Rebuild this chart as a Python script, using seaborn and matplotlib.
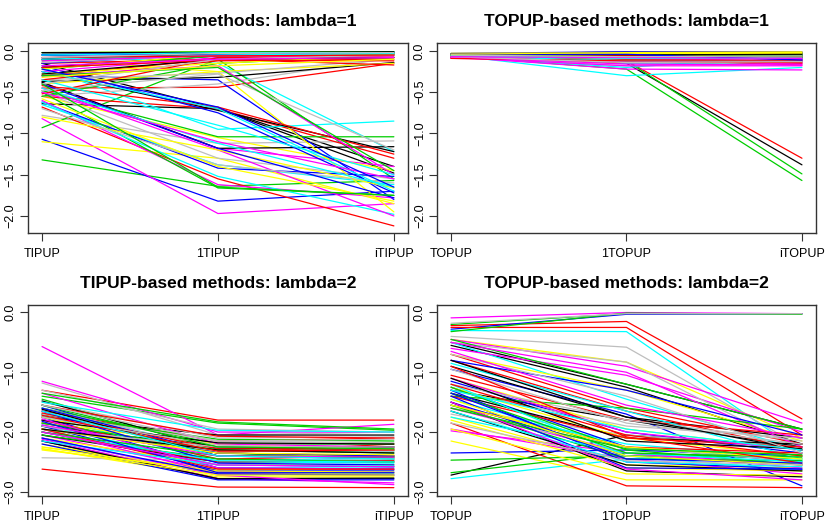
import pandas as pd
import seaborn as sns
import matplotlib.pyplot as plt

sns.set_style("ticks")
plt.rcParams['font.family'] = ['Liberation Sans', 'DejaVu Sans']

# R default palette, used in order for each series (black, red, green3, blue, cyan, magenta, yellow, gray)
R_COLORS = ['#000000', '#FF0000', '#00CD00', '#0000FF',
            '#00FFFF', '#FF00FF', '#FFFF00', '#BEBEBE']

TIPUP_LABELS = ['TIPUP', '1TIPUP', 'iTIPUP']
TOPUP_LABELS = ['TOPUP', '1TOPUP', 'iTOPUP']

# each tuple: value at (base, 1-, i-) method
tipup_l1 = [
    (-0.15, -0.70, -1.40), (-0.45, -0.44, -0.15), (-1.32, -1.64, -1.57), (-1.07, -1.82, -1.70),
    (-0.05, -0.15, -1.22), (-0.82, -1.97, -1.85), (-1.10, -1.30, -1.85), (-0.78, -1.12, -1.09),
    (-0.64, -0.70, -1.48), (-0.68, -1.55, -2.12), (-0.93, -0.10, -1.55), (-0.30, -0.35, -1.80),
    (-0.65, -1.38, -1.62), (-0.38, -1.18, -1.40), (-0.55, -1.05, -1.45), (-0.50, -1.30, -1.55),
    (-0.38, -1.18, -1.16), (-0.55, -0.70, -1.30), (-0.48, -1.04, -1.04), (-0.62, -1.42, -1.52),
    (-0.20, -0.95, -0.85), (-0.60, -1.62, -1.78), (-0.10, -0.25, -1.95), (-0.55, -0.40, -0.08),
    (-0.25, -0.72, -1.22), (-0.42, -0.68, -1.25), (-0.50, -1.66, -1.75), (-0.18, -0.75, -1.72),
    (-0.62, -1.52, -1.98), (-0.45, -1.20, -2.00), (-0.80, -1.20, -1.66), (-0.70, -1.38, -1.60),
    (-0.37, -0.32, -0.14), (-0.30, -0.10, -0.08), (-0.55, -0.15, -0.05), (-0.10, -0.05, -0.03),
    (-0.02, -0.03, -0.02), (-0.25, -0.08, -0.05), (-0.40, -0.25, -0.15), (-0.35, -0.27, -0.10),
    (-0.05, -0.02, -0.02), (-0.35, -0.12, -0.10), (-0.12, -0.03, -0.02), (-0.04, -0.02, -0.01),
    (-0.25, -0.70, -1.70), (-0.08, -0.05, -0.03), (-0.02, -0.01, -0.01), (-0.20, -0.05, -0.04),
    (-0.20, -0.06, -0.04), (-0.15, -0.10, -0.17), (-0.02, -0.01, -0.01), (-0.40, -1.18, -1.78),
    (-0.45, -1.12, -1.65), (-0.30, -0.18, -1.50), (-0.28, -0.15, -0.05), (-0.48, -0.28, -1.20),
    (-0.10, -0.04, -0.03), (-0.52, -0.08, -0.06), (-0.22, -0.06, -0.04), (-0.15, -0.04, -0.02),
    (-0.35, -0.90, -1.50), (-0.50, -1.10, -1.55), (-0.22, -0.04, -0.03), (-0.14, -0.05, -0.03),
    (-0.28, -0.10, -0.08), (-0.20, -0.11, -0.12), (-0.30, -0.20, -1.45), (-0.05, -0.04, -0.02),
    (-0.10, -0.05, -0.03), (-0.12, -0.06, -0.06), (-0.58, -1.40, -1.82), (-0.40, -0.10, -0.05),
    (-0.02, -0.02, -0.01), (-0.08, -0.06, -0.05), (-0.40, -1.65, -1.75), (-0.22, -0.68, -1.65),
    (-0.05, -0.02, -0.02), (-0.18, -0.10, -0.08), (-0.32, -0.18, -0.10), (-0.08, -0.03, -0.02),
]

topup_l1 = [
    (-0.05, -0.15, -1.38), (-0.08, -0.12, -1.30), (-0.06, -0.22, -1.57), (-0.04, -0.03, -0.10),
    (-0.05, -0.30, -0.20), (-0.07, -0.22, -0.23), (-0.03, -0.02, -0.02), (-0.06, -0.18, -0.12),
    (-0.04, -0.02, -0.05), (-0.09, -0.10, -0.17), (-0.07, -0.12, -1.49), (-0.05, -0.03, -0.02),
    (-0.06, -0.20, -0.05), (-0.08, -0.06, -0.15), (-0.05, -0.04, -0.03), (-0.04, -0.05, -0.08),
    (-0.04, -0.03, -0.02), (-0.07, -0.08, -0.12), (-0.05, -0.04, -0.06), (-0.04, -0.02, -0.08),
    (-0.06, -0.15, -0.14), (-0.08, -0.18, -0.18), (-0.05, -0.06, -0.05), (-0.06, -0.10, -0.09),
    (-0.05, -0.08, -0.06), (-0.06, -0.12, -0.15), (-0.04, -0.03, -0.04), (-0.05, -0.01, -0.01),
    (-0.07, -0.12, -0.10), (-0.06, -0.10, -0.13), (-0.04, -0.03, -0.03), (-0.05, -0.08, -0.07),
    (-0.06, -0.10, -0.08), (-0.08, -0.09, -0.10), (-0.05, -0.05, -0.04), (-0.04, -0.02, -0.12),
    (-0.05, -0.08, -0.06), (-0.09, -0.11, -0.16), (-0.04, -0.01, -0.01), (-0.07, -0.11, -0.10),
    (-0.05, -0.04, -0.04), (-0.07, -0.05, -0.06), (-0.06, -0.08, -0.07), (-0.03, -0.01, -0.02),
    (-0.04, -0.06, -0.05), (-0.07, -0.09, -0.12), (-0.06, -0.07, -0.06), (-0.05, -0.06, -0.05),
    (-0.04, -0.02, -0.03), (-0.08, -0.14, -0.14), (-0.05, -0.02, -0.03), (-0.06, -0.05, -0.10),
    (-0.05, -0.10, -0.04), (-0.06, -0.13, -0.11), (-0.05, -0.05, -0.04), (-0.04, -0.04, -0.06),
    (-0.06, -0.07, -0.08), (-0.07, -0.10, -0.09), (-0.04, -0.06, -0.08), (-0.05, -0.03, -0.05),
    (-0.06, -0.12, -0.12), (-0.08, -0.07, -0.10), (-0.03, -0.02, -0.02), (-0.06, -0.09, -0.08),
    (-0.05, -0.06, -0.06), (-0.09, -0.12, -0.12), (-0.06, -0.05, -0.05), (-0.04, -0.02, -0.03),
    (-0.05, -0.07, -0.07), (-0.07, -0.16, -0.17), (-0.05, -0.03, -0.03), (-0.07, -0.14, -0.13),
    (-0.04, -0.05, -0.04), (-0.06, -0.06, -0.07), (-0.05, -0.07, -0.06), (-0.04, -0.04, -0.11),
    (-0.06, -0.09, -0.09), (-0.07, -0.08, -0.09), (-0.04, -0.02, -0.02), (-0.05, -0.07, -0.06),
]

tipup_l2 = [
    (-1.70, -2.25, -2.25), (-1.30, -1.80, -1.80), (-1.40, -1.85, -1.97), (-1.55, -2.40, -2.45),
    (-1.60, -2.30, -2.32), (-0.57, -2.05, -1.87), (-2.28, -2.75, -2.75), (-1.18, -2.05, -2.00),
    (-1.85, -2.35, -2.40), (-2.62, -2.92, -2.93), (-1.90, -2.35, -2.45), (-2.15, -2.78, -2.78),
    (-1.95, -2.60, -2.60), (-1.15, -2.00, -2.00), (-2.20, -2.70, -2.70), (-2.43, -2.47, -2.45),
    (-1.75, -2.05, -2.05), (-1.65, -2.15, -2.10), (-1.45, -2.30, -2.30), (-2.00, -2.55, -2.58),
    (-1.80, -2.45, -2.48), (-2.05, -2.65, -2.68), (-2.25, -2.62, -2.63), (-1.30, -1.95, -2.00),
    (-1.90, -2.25, -2.30), (-1.95, -2.35, -2.20), (-1.60, -2.20, -2.20), (-1.75, -2.60, -2.62),
    (-1.88, -2.55, -2.55), (-2.12, -2.78, -2.85), (-1.85, -2.20, -2.30), (-1.60, -2.30, -2.32),
    (-2.05, -2.50, -2.50), (-1.80, -2.45, -2.40), (-1.70, -2.12, -2.15), (-1.90, -2.65, -2.65),
    (-1.72, -2.50, -2.52), (-1.35, -2.20, -2.25), (-2.10, -2.55, -2.55), (-1.50, -2.10, -2.08),
    (-1.48, -2.28, -2.25), (-2.00, -2.50, -2.48), (-1.35, -1.83, -1.95), (-2.20, -2.80, -2.80),
    (-2.10, -2.72, -2.70), (-1.95, -2.70, -2.72), (-1.75, -2.40, -2.40), (-1.70, -2.15, -2.18),
    (-2.15, -2.78, -2.77), (-1.55, -2.07, -2.10), (-2.05, -2.45, -2.50), (-1.60, -2.35, -2.40),
    (-1.50, -1.97, -2.00), (-2.10, -2.72, -2.88), (-2.25, -2.68, -2.68), (-1.90, -2.32, -2.30),
    (-1.80, -2.18, -2.20), (-1.68, -2.28, -2.28), (-1.85, -2.30, -2.35), (-1.65, -2.52, -2.55),
    (-2.00, -2.48, -2.50), (-1.78, -2.60, -2.62), (-2.30, -2.65, -2.67), (-1.95, -2.25, -2.25),
    (-1.62, -2.40, -2.42), (-1.95, -2.62, -2.62), (-2.00, -2.40, -2.42), (-1.82, -2.68, -2.68),
    (-2.15, -2.55, -2.57), (-1.88, -2.40, -2.42), (-1.95, -2.35, -2.38), (-1.75, -2.22, -2.28),
    (-1.95, -2.30, -2.35), (-1.72, -2.32, -2.30), (-1.55, -2.25, -2.28), (-2.10, -2.70, -2.72),
    (-1.65, -2.40, -2.45), (-2.00, -2.55, -2.58), (-2.28, -2.72, -2.72), (-1.55, -2.15, -2.12),
]

topup_l2 = [
    (-2.72, -2.05, -2.25), (-0.22, -0.15, -1.78), (-0.20, -0.02, -0.02), (-0.28, -0.03, -0.02),
    (-0.30, -0.32, -2.35), (-0.09, -0.00, -0.02), (-0.45, -0.83, -2.10), (-0.40, -0.58, -2.25),
    (-0.50, -1.20, -1.95), (-0.25, -0.25, -2.05), (-0.32, -0.01, -0.03), (-2.35, -2.30, -2.40),
    (-2.78, -2.45, -2.40), (-0.45, -0.90, -1.85), (-2.15, -2.80, -2.80), (-0.18, -0.02, -0.02),
    (-0.55, -1.25, -2.20), (-1.85, -2.90, -2.93), (-2.68, -2.35, -2.45), (-0.95, -1.70, -2.90),
    (-0.50, -1.45, -2.30), (-0.60, -1.05, -2.00), (-0.70, -1.30, -2.15), (-0.50, -0.83, -2.30),
    (-1.30, -1.80, -2.25), (-0.70, -1.60, -2.20), (-2.47, -2.40, -2.40), (-1.15, -2.00, -2.35),
    (-1.55, -2.20, -2.45), (-1.98, -2.35, -2.55), (-1.75, -2.55, -2.60), (-1.60, -2.05, -2.25),
    (-0.90, -1.75, -2.10), (-0.80, -1.65, -2.30), (-0.45, -1.20, -1.95), (-1.25, -2.25, -2.50),
    (-1.45, -2.25, -2.48), (-0.50, -1.00, -2.25), (-1.10, -1.95, -2.30), (-1.30, -1.90, -2.10),
    (-1.35, -2.10, -2.20), (-1.05, -1.80, -2.05), (-1.40, -1.60, -1.95), (-1.50, -2.40, -2.55),
    (-0.85, -1.65, -2.45), (-1.60, -2.35, -2.60), (-1.25, -2.10, -2.40), (-1.70, -2.25, -2.50),
    (-1.50, -2.65, -2.75), (-1.40, -2.10, -2.25), (-1.25, -2.30, -2.55), (-0.80, -1.30, -2.05),
    (-1.20, -2.40, -2.65), (-1.95, -2.45, -2.70), (-1.80, -2.60, -2.65), (-0.95, -1.85, -2.20),
    (-1.65, -2.55, -2.65), (-1.55, -2.25, -2.35), (-1.55, -2.45, -2.48), (-1.30, -2.50, -2.62),
    (-1.75, -2.35, -2.50), (-1.10, -2.00, -2.30), (-1.95, -2.70, -2.72), (-1.20, -1.80, -2.15),
    (-0.80, -1.75, -2.30), (-1.20, -2.05, -2.40), (-1.35, -2.35, -2.42), (-1.40, -2.60, -2.62),
    (-1.65, -2.50, -2.58), (-1.50, -2.62, -2.80), (-1.55, -2.25, -2.45), (-0.70, -1.40, -2.35),
    (-1.10, -2.15, -2.28), (-0.90, -2.08, -2.52), (-1.60, -2.28, -2.38), (-1.35, -2.45, -2.52),
    (-1.30, -1.95, -2.30), (-0.65, -1.55, -2.10), (-1.45, -2.40, -2.55), (-1.85, -2.48, -2.55),
]


def to_long(rows):
    recs = []
    for i, r in enumerate(rows):
        for pos, v in enumerate(r, start=1):
            recs.append({'series': i, 'pos': pos, 'value': v})
    return pd.DataFrame(recs)


def draw(ax, rows, labels, title, ylim, yticks):
    df = to_long(rows)
    pal = {i: R_COLORS[i % len(R_COLORS)] for i in range(len(rows))}
    sns.lineplot(data=df, x='pos', y='value', hue='series', palette=pal,
                 estimator=None, sort=False, legend=False, lw=0.9, ax=ax)
    ax.set_xlim(0.92, 3.08)
    ax.set_ylim(*ylim)
    ax.set_xticks([1, 2, 3])
    ax.set_xticklabels(labels)
    ax.set_yticks(yticks)
    ax.set_yticklabels([f'{t:.1f}'.replace('-', '\u2212') for t in yticks],
                       rotation=90, va='center')
    ax.set_xlabel('')
    ax.set_ylabel('')
    ax.set_title(title, fontweight='bold', fontsize=12.5, pad=12, color='black')
    for s in ax.spines.values():
        s.set_color('#333333')
        s.set_linewidth(1.0)
    ax.tick_params(length=6, width=0.8, color='#333333', labelsize=9,
                   labelcolor='black')
    ax.tick_params(axis='x', pad=5)
    ax.tick_params(axis='y', pad=2)


fig = plt.figure(figsize=(8.3, 5.25), dpi=100)
ax1 = fig.add_axes([0.0337, 0.5562, 0.4578, 0.362])
ax2 = fig.add_axes([0.5265, 0.5562, 0.4566, 0.362])
ax3 = fig.add_axes([0.0337, 0.0552, 0.4578, 0.3638])
ax4 = fig.add_axes([0.5265, 0.0552, 0.4566, 0.3638])

top_ticks = [0.0, -0.5, -1.0, -1.5, -2.0]
bot_ticks = [0.0, -1.0, -2.0, -3.0]

draw(ax1, tipup_l1, TIPUP_LABELS, 'TIPUP-based methods: lambda=1', (-2.206, 0.097), top_ticks)
draw(ax2, topup_l1, TOPUP_LABELS, 'TOPUP-based methods: lambda=1', (-2.206, 0.097), top_ticks)
draw(ax3, tipup_l2, TIPUP_LABELS, 'TIPUP-based methods: lambda=2', (-3.07, 0.125), bot_ticks)
draw(ax4, topup_l2, TOPUP_LABELS, 'TOPUP-based methods: lambda=2', (-3.07, 0.125), bot_ticks)

plt.savefig('out.png', dpi=100)
